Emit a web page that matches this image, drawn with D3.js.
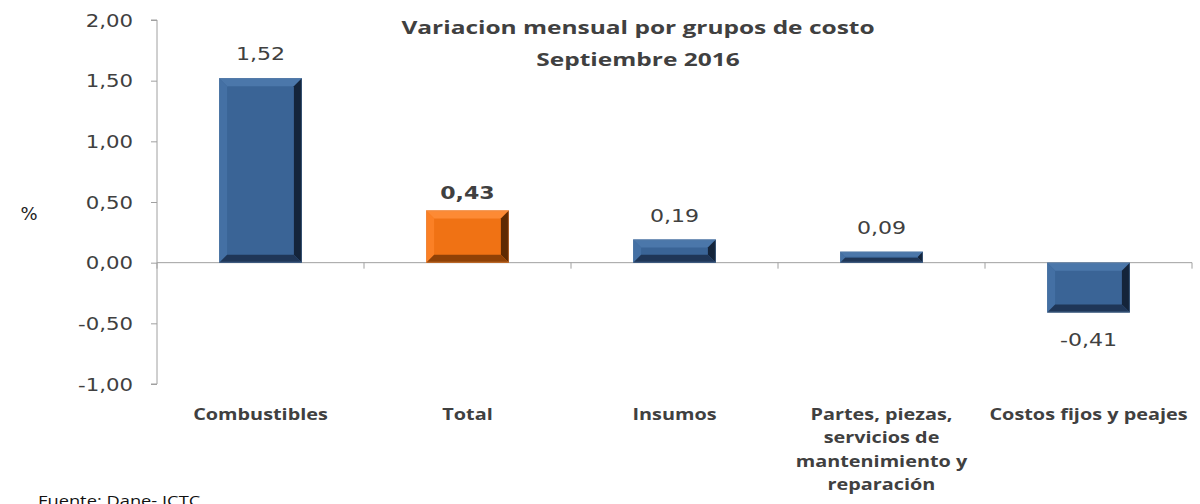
<!DOCTYPE html>
<html><head><meta charset="utf-8">
<script src="https://cdn.jsdelivr.net/npm/d3@7"></script>
<style>body{margin:0;background:#fff}svg{display:block}</style>
</head><body>
<svg id="c" width="1200" height="504"></svg>
<script>
const categories = ["Combustibles","Total","Insumos","Partes, piezas, servicios de mantenimiento y reparación","Costos fijos y peajes"];
const categoryLines = [["Combustibles"],["Total"],["Insumos"],["Partes, piezas,","servicios de","mantenimiento y","reparación"],["Costos fijos y peajes"]];
const values = [1.52, 0.43, 0.19, 0.09, -0.41];
const valueLabels = ["1,52","0,43","0,19","0,09","-0,41"];
const yTicks = [-1, -0.5, 0, 0.5, 1, 1.5, 2];
const yTickLabels = ["-1,00","-0,50","0,00","0,50","1,00","1,50","2,00"];
const highlight = "Total";

const svg = d3.select("#c");
const x = d3.scaleBand().domain(categories).range([157, 1192]).paddingInner(0.6).paddingOuter(0.3);
const xb = d3.scaleBand().domain(categories).range([157, 1192]);
const y = d3.scaleLinear().domain([-1, 2]).range([384, 20]);

const textColor = "#404040";
// horizontal stretch helper (reference text appears horizontally stretched)
function stretch(sel, ax, sx){ sel.attr("transform", `translate(${ax},0) scale(${sx},1) translate(${-ax},0)`); }

// y axis
const yAxis = d3.axisLeft(y).tickValues(yTicks).tickSize(6).tickFormat((d,i)=>yTickLabels[i]);
const gy = svg.append("g").attr("transform","translate(157,0)").call(yAxis);
gy.select(".domain").attr("stroke","#a0a0a0").attr("d", `M-6,${y(2)}H0V${y(-1)}H-6`);
gy.selectAll(".tick line").attr("stroke","#a0a0a0");
gy.selectAll(".tick text").attr("x",-24).attr("dy","0.36em").attr("fill",textColor)
  .style("font-family","DejaVu Sans, Verdana").style("font-size","17px")
  .each(function(){ stretch(d3.select(this), -24, 1.25); });

// x axis at zero
const gx = svg.append("g");
gx.append("line").attr("x1",157).attr("x2",1192).attr("y1",y(0)).attr("y2",y(0)).attr("stroke","#a0a0a0");
const bounds = categories.map(c=>xb(c)+xb.bandwidth()).concat([xb(categories[0])]);
gx.selectAll("line.tk").data(bounds).enter().append("line").attr("class","tk")
  .attr("x1",d=>d).attr("x2",d=>d).attr("y1",y(0)).attr("y2",y(0)+6).attr("stroke","#a0a0a0");

// bars with bevel
const palette = {
  blue: {main:"#3a6496", light:"#4470a4", top:"#4b77aa", dark:"#1f3657", darker:"#14243a", edge:"#5a7ea8"},
  orange: {main:"#f07214", light:"#fb8025", top:"#fd8a34", dark:"#8f4106", darker:"#5e2a02", edge:"#e89050"}
};
const bars = svg.append("g");
values.forEach((v,i)=>{
  const c = categories[i];
  const p = c===highlight ? palette.orange : palette.blue;
  const x0 = x(c), x1 = x(c)+x.bandwidth();
  const y0 = Math.min(y(v), y(0)), y1 = Math.max(y(v), y(0));
  const h = y1-y0;
  const b = Math.min(8, h/2.2);
  const g = bars.append("g");
  g.append("rect").attr("x",x0).attr("y",y0).attr("width",x1-x0).attr("height",h).attr("fill",p.main);
  g.append("path").attr("d",`M${x0},${y0}L${x1},${y0}L${x1-b},${y0+b}L${x0+b},${y0+b}Z`).attr("fill",p.top);
  g.append("path").attr("d",`M${x0},${y0}L${x0+b},${y0+b}L${x0+b},${y1-b}L${x0},${y1}Z`).attr("fill",p.light);
  g.append("path").attr("d",`M${x1},${y0}L${x1},${y1}L${x1-b},${y1-b}L${x1-b},${y0+b}Z`).attr("fill",p.darker);
  g.append("path").attr("d",`M${x0},${y1}L${x1},${y1}L${x1-b},${y1-b}L${x0+b},${y1-b}Z`).attr("fill",p.dark);
  g.append("rect").attr("x",x0+0.5).attr("y",y0+0.5).attr("width",x1-x0-1).attr("height",h-1)
    .attr("fill","none").attr("stroke",p.edge).attr("stroke-width",1).attr("opacity",0.5);
});

// value labels
svg.append("g").selectAll("text").data(values).enter().append("text")
  .attr("x",(d,i)=>x(categories[i])+x.bandwidth()/2)
  .attr("y",(d,i)=> d>=0 ? y(d)-(categories[i]===highlight?11:18) : y(d)+34)
  .attr("text-anchor","middle")
  .attr("fill",textColor)
  .style("font-family","DejaVu Sans, Verdana").style("font-size","17px")
  .style("font-weight",(d,i)=>categories[i]===highlight?"bold":"normal")
  .text((d,i)=>valueLabels[i])
  .each(function(d,i){ stretch(d3.select(this), x(categories[i])+x.bandwidth()/2, 1.3); });

// category labels
const cl = svg.append("g");
categoryLines.forEach((lines,i)=>{
  const cx = xb(categories[i])+xb.bandwidth()/2;
  const t = cl.append("text").attr("x",cx).attr("y",420)
    .attr("text-anchor","middle").attr("fill",textColor)
    .style("font-family","Open Sans, sans-serif").style("font-size","16px").style("font-weight","bold");
  lines.forEach((l,j)=>t.append("tspan").attr("x",cx).attr("dy", j===0?0:23.5).text(l));
  stretch(t, cx, 1.24);
});

// title
const title = svg.append("text").attr("x",638).attr("y",34).attr("text-anchor","middle").attr("fill",textColor)
  .style("font-family","Open Sans, sans-serif").style("font-size","18px").style("font-weight","bold");
title.append("tspan").attr("x",638).text("Variacion mensual por grupos de costo");
title.append("tspan").attr("x",638).attr("dy",32).text("Septiembre 2016");
stretch(title, 638, 1.36);

// y label
svg.append("text").attr("x",29).attr("y",220).attr("text-anchor","middle").attr("fill","#222")
  .style("font-family","DejaVu Sans, Verdana").style("font-size","18px").text("%");

// source
const src = svg.append("text").attr("x",38).attr("y",506).attr("fill","#111")
  .style("font-family","Open Sans, sans-serif").style("font-size","15px").text("Fuente: Dane- ICTC");
stretch(src, 38, 1.22);
</script>
</body></html>
